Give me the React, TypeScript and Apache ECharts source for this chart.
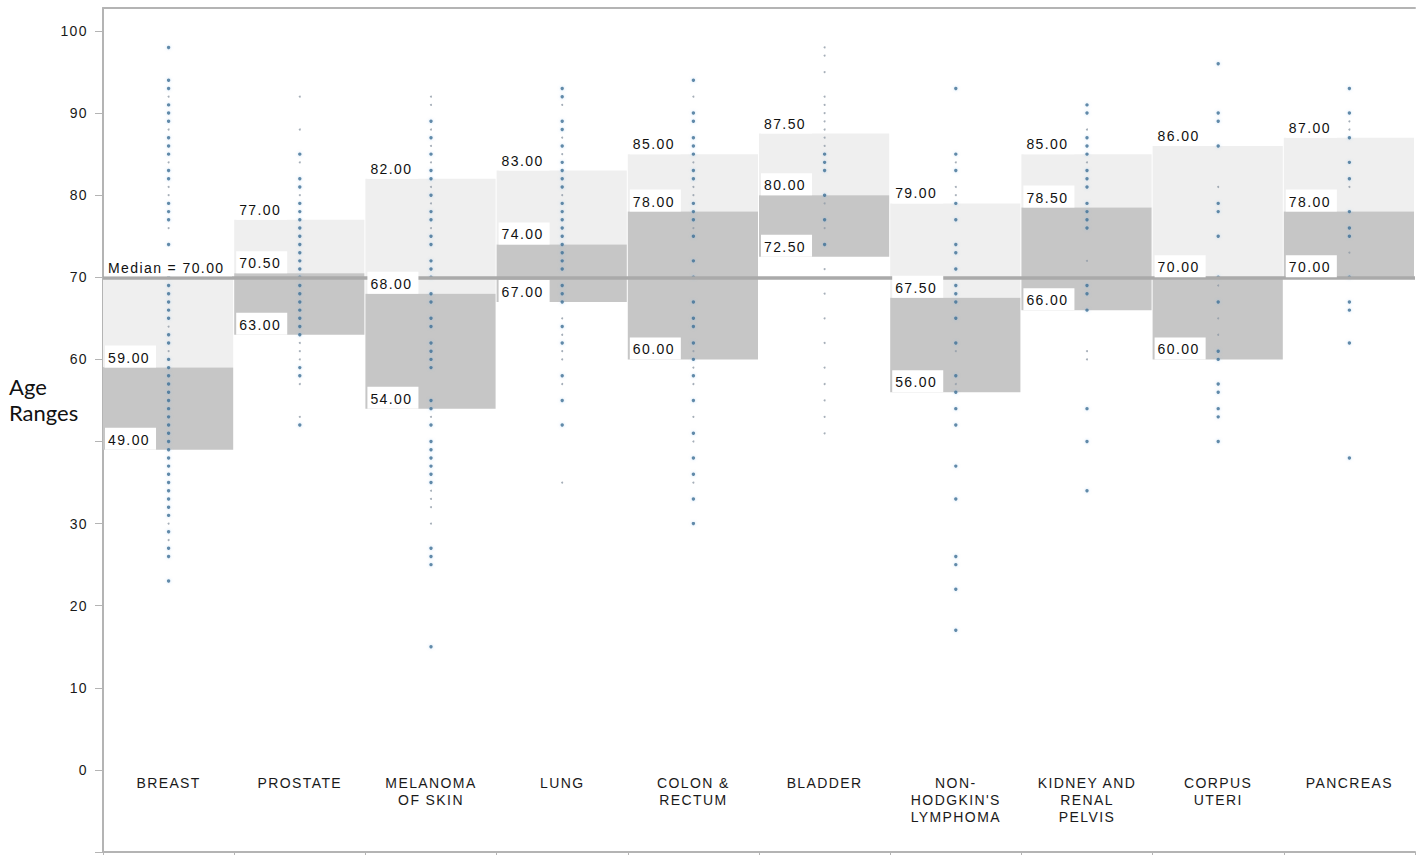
import React, { useEffect, useRef } from "react";
import * as echarts from "echarts";

// Cancer sites along the x axis
const categories = [
  "BREAST",
  "PROSTATE",
  "MELANOMA\nOF SKIN",
  "LUNG",
  "COLON &\nRECTUM",
  "BLADDER",
  "NON-\nHODGKIN'S\nLYMPHOMA",
  "KIDNEY AND\nRENAL\nPELVIS",
  "CORPUS\nUTERI",
  "PANCREAS",
];

// Age band per site: upper edge, middle split, lower edge
const upperAge = [70, 77, 82, 83, 85, 87.5, 79, 85, 86, 87];
const middleAge = [59, 70.5, 68, 74, 78, 80, 67.5, 78.5, 70, 78];
const lowerAge = [49, 63, 54, 67, 60, 72.5, 56, 66, 60, 70];
const overallMedian = 70;

// Y axis ticks and the labels printed beside them
const yTickValues = [0, 10, 20, 30, 40, 50, 60, 70, 80, 90, 100];
const yTickLabels = ["", "0", "10", "20", "30", "", "60", "70", "80", "90", "100"];
const yMax = 102.8;

// Individual ages per site (regular dots)
const breastAges = [98, 94, 93, 91, 90, 89, 87, 86, 85, 83, 82, 79, 78, 77, 74, 73, 72, 71, 70, 69, 68, 67, 66, 65, 63, 62, 60, 59, 58, 57, 56, 55, 54, 53, 52, 51, 50, 49, 48, 47, 46, 45, 44, 43, 42, 41, 39, 37, 36, 33];
const prostateAges = [85, 82, 81, 79, 78, 77, 76, 75, 74, 73, 72, 71, 70, 69, 68, 67, 66, 65, 64, 63, 59, 58, 52];
const melanomaAges = [89, 87, 85, 83, 82, 80, 78, 77, 75, 74, 72, 71, 70, 68, 67, 65, 64, 62, 61, 60, 59, 55, 54, 52, 50, 49, 48, 47, 46, 45, 37, 36, 35, 25];
const lungAges = [93, 92, 89, 88, 86, 84, 83, 82, 81, 79, 78, 77, 76, 75, 74, 73, 72, 71, 69, 68, 67, 64, 62, 58, 55, 52];
const colonAges = [94, 90, 89, 87, 86, 85, 83, 82, 79, 78, 77, 75, 72, 70, 67, 65, 64, 62, 60, 58, 55, 51, 48, 46, 43, 40];
const bladderAges = [85, 84, 83, 80, 77, 74];
const lymphomaAges = [93, 85, 83, 79, 77, 74, 73, 71, 69, 68, 67, 65, 62, 58, 56, 54, 52, 47, 43, 36, 35, 32, 27];
const kidneyAges = [91, 90, 87, 86, 85, 83, 82, 81, 79, 78, 77, 76, 69, 68, 66, 54, 50, 44];
const corpusAges = [96, 90, 89, 86, 79, 78, 75, 70, 67, 61, 60, 57, 56, 54, 53, 50];
const pancreasAges = [93, 90, 87, 84, 82, 78, 76, 75, 70, 67, 66, 62, 48];

// Single, faint observations per site
const breastFaint = [92, 88, 84, 81, 80, 76, 64, 61, 40, 38];
const prostateFaint = [92, 88, 84, 80, 62, 61, 60, 57, 53];
const melanomaFaint = [92, 91, 88, 86, 84, 81, 79, 76, 53, 44, 43, 42, 40];
const lungFaint = [91, 87, 85, 80, 65, 63, 61, 60, 57, 45];
const colonFaint = [92, 84, 81, 80, 76, 61, 59, 57, 53, 50, 45];
const bladderFaint = [98, 97, 95, 92, 91, 90, 89, 88, 87, 86, 79, 76, 71, 68, 65, 62, 59, 57, 55, 53, 51];
const lymphomaFaint = [84, 81, 80, 61, 57];
const kidneyFaint = [88, 84, 72, 61, 60];
const corpusFaint = [81, 69, 65, 63];
const pancreasFaint = [89, 88, 81, 73];

const regularDots = [breastAges, prostateAges, melanomaAges, lungAges, colonAges, bladderAges, lymphomaAges, kidneyAges, corpusAges, pancreasAges];
const faintDots = [breastFaint, prostateFaint, melanomaFaint, lungFaint, colonFaint, bladderFaint, lymphomaFaint, kidneyFaint, corpusFaint, pancreasFaint];

const FONT = '"Liberation Sans", Arial, sans-serif';
const AXIS_GREY = "#b4b4b4";

export default function App() {
  const ref = useRef<HTMLDivElement>(null);

  useEffect(() => {
    if (!ref.current) return;
    const chart = echarts.init(ref.current, undefined, { renderer: "svg" });

    const bandData = categories.map((_, i) => [i, upperAge[i], middleAge[i], lowerAge[i]]);
    const toPoints = (lists: number[][]) =>
      lists.flatMap((ages, i) => ages.map((a) => [i, a]));

    const valueLabel = (v: number, x: number, y: number) => ({
      type: "text",
      style: {
        text: v.toFixed(2),
        x,
        y,
        align: "left",
        verticalAlign: "bottom",
        font: `14px ${FONT}`,
        fill: "#111",
        backgroundColor: "#fff",
        padding: [5, 13, 3, 3],
      },
    });

    chart.setOption({
      animation: false,
      backgroundColor: "#fff",
      grid: { left: 103, right: 6, top: 8, bottom: 3, containLabel: false },
      xAxis: [
        {
          type: "category",
          data: categories,
          position: "bottom",
          boundaryGap: true,
          axisLine: { show: true, lineStyle: { color: AXIS_GREY, width: 2 } },
          axisTick: { show: true, length: 4, lineStyle: { color: AXIS_GREY, width: 1 } },
          axisLabel: {
            interval: 0,
            margin: -78,
            color: "#1a1a1a",
            fontFamily: FONT,
            fontSize: 14,
            lineHeight: 17,
            verticalAlign: "top",
          },
          splitLine: { show: false },
        },
        {
          type: "category",
          data: categories,
          position: "top",
          axisLine: { show: true, lineStyle: { color: AXIS_GREY, width: 2 } },
          axisTick: { show: false },
          axisLabel: { show: false },
          splitLine: { show: false },
        },
      ],
      yAxis: {
        type: "value",
        min: 0,
        max: yMax,
        axisLine: { show: true, lineStyle: { color: AXIS_GREY, width: 2 } },
        axisTick: {
          show: true,
          length: 8,
          customValues: yTickValues,
          lineStyle: { color: AXIS_GREY, width: 1 },
        },
        axisLabel: {
          customValues: yTickValues,
          margin: 15,
          color: "#1a1a1a",
          fontFamily: FONT,
          fontSize: 14,
          formatter: (v: number) => yTickLabels[Math.round(v / 10)] ?? "",
        },
        splitLine: { show: false },
      },
      graphic: [
        {
          type: "text",
          left: 9,
          top: 373,
          style: {
            text: "Age\nRanges",
            font: '22px Lato, "Open Sans", sans-serif',
            lineHeight: 26,
            fill: "#111",
          },
        },
      ],
      series: [
        // grey bands
        {
          type: "custom",
          z: 1,
          data: bandData,
          encode: { x: 0, y: [1, 2, 3] },
          silent: true,
          renderItem: (_params: any, api: any) => {
            const i = api.value(0);
            const pTop = api.coord([i, api.value(1)]);
            const pMid = api.coord([i, api.value(2)]);
            const pBot = api.coord([i, api.value(3)]);
            const band = api.size([1, 0])[0];
            const x0 = pTop[0] - band / 2;
            const w = band - 1;
            return {
              type: "group",
              children: [
                { type: "rect", shape: { x: x0, y: pTop[1], width: w, height: pMid[1] - pTop[1] }, style: { fill: "#efefef" } },
                { type: "rect", shape: { x: x0, y: pMid[1], width: w, height: pBot[1] - pMid[1] }, style: { fill: "#c6c6c6" } },
              ],
            };
          },
        },
        {
          type: "scatter",
          z: 3,
          symbol: "circle",
          symbolSize: 2,
          data: toPoints(faintDots),
          itemStyle: { color: "#8e9aa6" },
          silent: true,
        },
        {
          type: "scatter",
          z: 4,
          symbol: "circle",
          symbolSize: 3.4,
          data: toPoints(regularDots),
          itemStyle: {
            color: "#3f6f93",
            shadowBlur: 3,
            shadowColor: "rgba(110,170,225,0.55)",
          },
          silent: true,
          markLine: {
            silent: true,
            symbol: "none",
            lineStyle: { color: "#aaaaaa", width: 3.5, type: "solid" },
            label: {
              show: true,
              position: "insideStartTop",
              distance: 1,
              formatter: () => `Median = ${overallMedian.toFixed(2)}`,
              color: "#111",
              fontFamily: FONT,
              fontSize: 14,
              align: "left",
              width: 122,
              backgroundColor: "#ffffff",
              padding: [14, 2, 1, 4],
            },
            data: [{ yAxis: overallMedian }],
          },
        },
        // value labels on top of everything
        {
          type: "custom",
          z: 6,
          data: bandData,
          encode: { x: 0, y: [1, 2, 3] },
          silent: true,
          renderItem: (_params: any, api: any) => {
            const i = api.value(0);
            const up = api.value(1);
            const md = api.value(2);
            const lo = api.value(3);
            const pTop = api.coord([i, up]);
            const pMid = api.coord([i, md]);
            const pBot = api.coord([i, lo]);
            const band = api.size([1, 0])[0];
            const x0 = pTop[0] - band / 2 + 2;
            const children: any[] = [];
            // where the band starts on the median line, that line's own label is shown instead
            if (up !== overallMedian) children.push(valueLabel(up, x0, pTop[1]));
            children.push(valueLabel(md, x0, pMid[1]));
            children.push(valueLabel(lo, x0, pBot[1]));
            return { type: "group", children };
          },
        },
      ],
    });

    return () => chart.dispose();
  }, []);

  return (
    <>
      <style>{`
        body { margin: 0; }
        #age-chart svg text { letter-spacing: 1.4px; }
        #age-chart svg text[style*="Lato"] { letter-spacing: 0; }
      `}</style>
      <div
        id="age-chart"
        ref={ref}
        style={{ position: "fixed", left: 0, top: 0, width: 1421, height: 855 }}
      />
    </>
  );
}
